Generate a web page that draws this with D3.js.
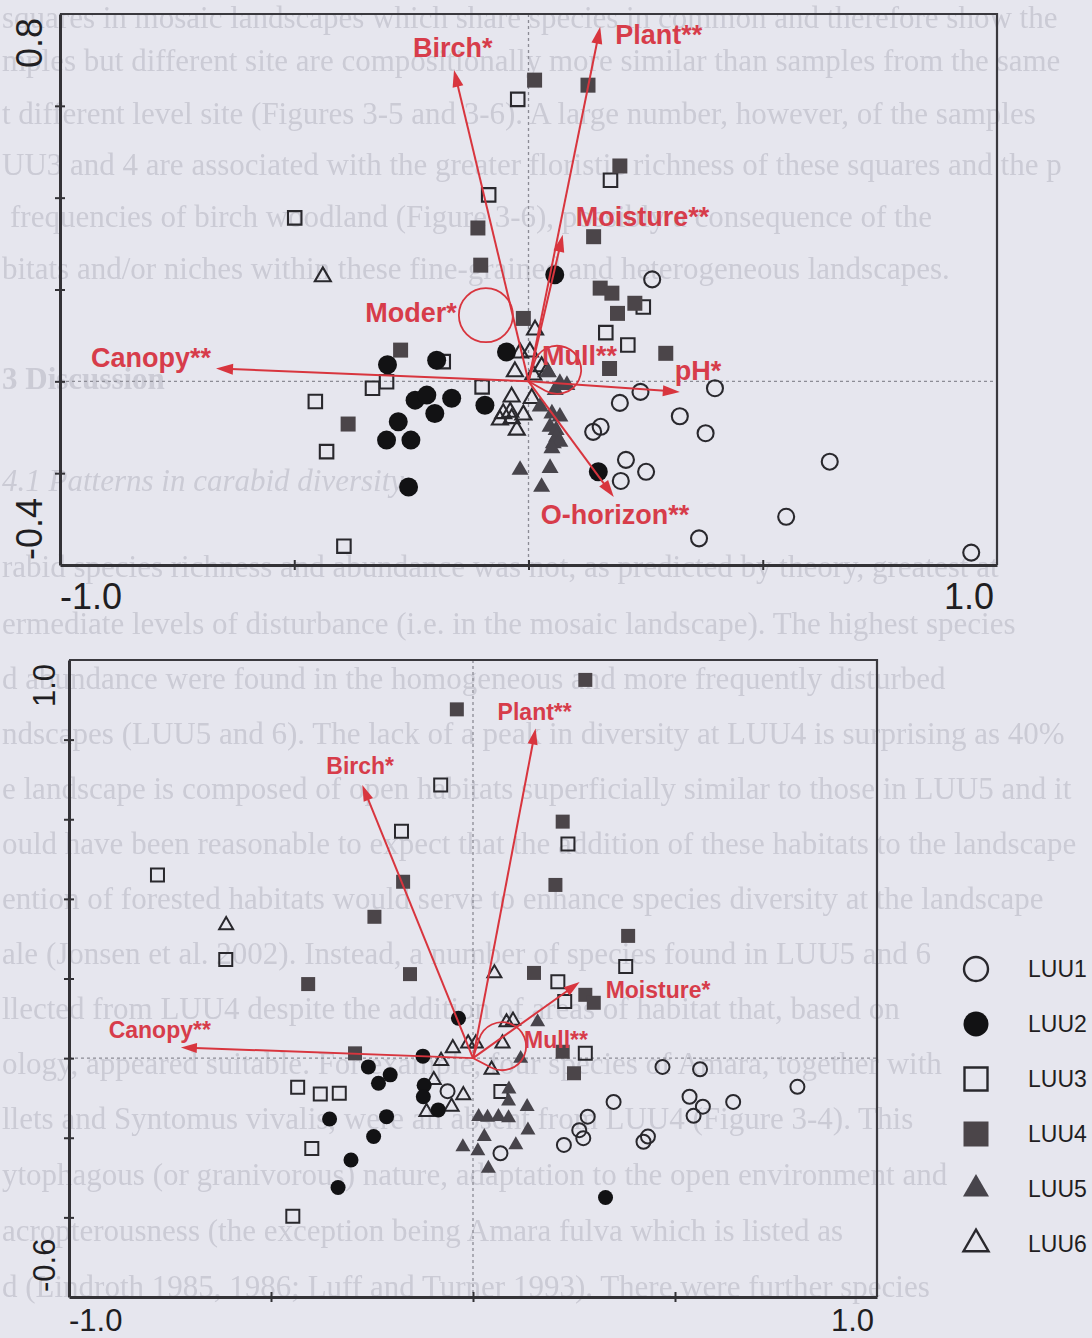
<!DOCTYPE html>
<html>
<head>
<meta charset="utf-8">
<script src="https://cdn.jsdelivr.net/npm/d3@7"></script>
<style>
  html, body { margin: 0; padding: 0; background: #e6e6ee; }
  svg { display: block; }
</style>
</head>
<body>
<svg id="page" width="1092" height="1338"></svg>
<script>
// ---------------- data ----------------
const groups = ["LUU1", "LUU2", "LUU3", "LUU4", "LUU5", "LUU6"];

// Upper biplot: sample scores [axis 1, axis 2]
const topLUU1 = [[0.264,0.222],[0.239,-0.023],[0.398,-0.015],[0.195,-0.047],[0.323,-0.076],[0.154,-0.099],[0.138,-0.110],[0.378,-0.113],[0.643,-0.175],[0.208,-0.171],[0.251,-0.197],[0.197,-0.217],[0.550,-0.295],[0.364,-0.342],[0.945,-0.373]];
const topLUU2 = [[0.056,0.232],[0.149,-0.197],[-0.047,0.064],[-0.196,0.046],[-0.301,0.036],[-0.242,-0.041],[-0.217,-0.030],[-0.164,-0.037],[-0.200,-0.070],[-0.278,-0.088],[-0.303,-0.128],[-0.251,-0.128],[-0.093,-0.052],[-0.256,-0.230]];
const topLUU3 = [[-0.023,0.614],[-0.085,0.406],[-0.499,0.356],[0.175,0.438],[0.245,0.162],[0.165,0.106],[0.212,0.079],[-0.182,0.043],[-0.303,-0.001],[-0.333,-0.015],[-0.455,-0.044],[-0.099,-0.012],[-0.431,-0.153],[-0.394,-0.359]];
const topLUU4 = [[0.013,0.656],[-0.108,0.334],[-0.102,0.253],[0.127,0.645],[0.195,0.469],[0.139,0.315],[0.153,0.203],[0.178,0.192],[0.227,0.170],[0.190,0.148],[0.293,0.061],[0.173,0.028],[-0.273,0.068],[-0.385,-0.093],[-0.011,0.137]];
const topLUU5 = [[0.067,-0.004],[0.082,-0.008],[0.057,-0.019],[0.025,-0.055],[0.050,-0.070],[0.067,-0.077],[0.046,-0.099],[0.059,-0.106],[0.060,-0.121],[0.053,-0.135],[0.067,-0.132],[0.050,-0.146],[-0.018,-0.193],[0.046,-0.189],[0.028,-0.230],[0.042,0.020]];
const topLUU6 = [[-0.439,0.228],[0.014,0.112],[-0.018,0.062],[0.003,0.064],[-0.029,0.021],[0.010,0.014],[0.039,0.021],[0.028,0.032],[-0.036,-0.034],[0.007,-0.037],[-0.054,-0.070],[-0.036,-0.081],[-0.011,-0.073],[-0.025,-0.106],[-0.061,-0.084],[-0.039,-0.067]];

// Upper biplot: environmental vectors and nominal-variable centroids
const topArrowNames = ["Birch*", "Plant**", "Moisture**", "Canopy**", "pH*", "O-horizon**"];
const topArrowX = [-0.159, 0.153, 0.073, -0.667, 0.323, 0.182];
const topArrowY = [0.678, 0.772, 0.319, 0.028, -0.023, -0.252];
const topCentroidNames = ["Moder*", "Mull**"];
const topCentroidX = [-0.091, 0.061];
const topCentroidY = [0.144, 0.025];

// Lower biplot: sample scores [axis 1, axis 2]
const botLUU1 = [[0.469,-0.022],[0.562,-0.028],[0.803,-0.072],[0.348,-0.110],[0.536,-0.097],[0.569,-0.122],[0.644,-0.110],[0.546,-0.145],[0.284,-0.147],[0.263,-0.181],[0.273,-0.201],[0.225,-0.218],[0.433,-0.197],[0.422,-0.210],[0.068,-0.239],[-0.063,-0.083]];
const botLUU2 = [[-0.036,0.100],[-0.124,0.005],[-0.259,-0.022],[-0.205,-0.042],[-0.234,-0.063],[-0.121,-0.068],[-0.123,-0.097],[-0.086,-0.130],[-0.355,-0.153],[-0.214,-0.147],[-0.246,-0.197],[-0.302,-0.256],[-0.334,-0.325],[0.328,-0.350]];
const botLUU3 = [[-0.080,0.686],[-0.177,0.570],[-0.781,0.460],[-0.612,0.248],[0.235,0.538],[0.378,0.230],[0.210,0.192],[0.227,0.142],[0.278,0.012],[-0.434,-0.073],[-0.378,-0.090],[-0.331,-0.088],[-0.399,-0.227],[-0.446,-0.397],[0.069,-0.084]];
const botLUU4 = [[0.278,0.950],[-0.040,0.876],[0.222,0.594],[-0.173,0.443],[0.204,0.435],[-0.244,0.355],[0.384,0.307],[-0.408,0.186],[-0.156,0.211],[0.151,0.214],[0.278,0.159],[0.299,0.139],[-0.292,0.012],[0.222,0.016],[0.250,-0.038]];
const botLUU5 = [[0.160,0.091],[0.118,-0.001],[0.089,-0.078],[0.088,-0.108],[0.134,-0.122],[0.014,-0.147],[0.036,-0.149],[0.063,-0.147],[0.088,-0.150],[0.136,-0.181],[0.028,-0.197],[-0.025,-0.223],[0.012,-0.233],[0.106,-0.218],[0.038,-0.277]];
const botLUU6 = [[-0.611,0.334],[0.053,0.213],[0.099,0.094],[0.083,0.090],[-0.050,0.025],[-0.012,0.037],[0.007,0.037],[0.073,0.037],[-0.079,-0.007],[0.046,-0.029],[-0.097,-0.055],[-0.053,-0.122],[-0.115,-0.135],[-0.024,-0.093]];

// Lower biplot: environmental vectors and centroid
const botArrowNames = ["Birch*", "Plant**", "Moisture*", "Canopy**"];
const botArrowX = [-0.274, 0.155, 0.264, -0.723];
const botArrowY = [0.686, 0.828, 0.191, 0.027];
const botCentroidNames = ["Mull**"];
const botCentroidX = [0.072];
const botCentroidY = [0.030];

// Axis end labels
const topXLabels = ["-1.0", "1.0"];
const topYLabels = ["-0.4", "0.8"];
const botXLabels = ["-1.0", "1.0"];
const botYLabels = ["-0.6", "1.0"];

// Running text of the page the figures are printed on (visible part of each line)
const pageLines = [
  "squares in mosaic landscapes which share species in common and therefore show the same",
  "mples but different site are compositionally more similar than samples from the same",
  "t different level site (Figures 3-5 and 3-6).  A large number, however, of the samples",
  "UU3 and 4 are associated with the greater floristic richness of these squares and the p",
  "frequencies of birch woodland (Figure 3-6), possibly a consequence of the accumulation",
  "bitats and/or niches within these fine-grained and heterogeneous landscapes.",
  "3 Discussion",
  "4.1 Patterns in carabid diversity",
  "rabid species richness and abundance was not, as predicted by theory, greatest at",
  "ermediate levels of disturbance (i.e. in the mosaic landscape).  The highest species",
  "d abundance were found in the homogeneous and more frequently disturbed agricultural",
  "ndscapes (LUU5 and 6).   The lack of a peak in diversity at LUU4 is surprising as 40%",
  "e landscape is composed of open habitats superficially similar to those in LUU5 and it",
  "ould have been reasonable to expect that the addition of these habitats to the landscape",
  "ention of forested habitats would serve to enhance species diversity at the landscape",
  "ale (Jonsen et al. 2002).  Instead, a number of species found in LUU5 and 6 were not",
  "llected from LUU4 despite the addition of areas of habitat that, based on their",
  "ology, appeared suitable.  For example, four species of Amara, together with Bembidion",
  "llets and Syntomus vivalis, were all absent from LUU4 (Figure 3-4).  This was despite",
  "ytophagous (or granivorous) nature, adaptation to the open environment and",
  "acropterousness (the exception being Amara fulva which is listed as dimorphic) in most",
  "d (Lindroth 1985, 1986; Luff and Turner 1993).  There were further species"
];
const pageLineX = [2, 2, 2, 2, 10, 2, 2, 2, 2, 2, 2, 2, 2, 2, 2, 2, 2, 2, 2, 2, 2, 2];
const pageLineY = [28, 71, 124, 175, 227, 279, 389, 491, 577, 634, 689, 744, 799, 854, 909, 964, 1019, 1074, 1129, 1185, 1241, 1297];
const pageLineStyle = ["n","n","n","n","n","n","b","i","n","n","n","n","n","n","n","n","n","n","n","n","n","n"];

// ---------------- drawing ----------------
const svg = d3.select("#page");
const RED_LINE = "#d8353e";
const RED_TEXT = "#d73c4a";
const INK = "#29282d";
const SANS = "'Liberation Sans', Arial, Helvetica, sans-serif";

// legend block position (used to keep the page text clear of it)
const LEGEND_X = 976, LEGEND_TOP = 969, LEGEND_BOTTOM = 1244;

svg.append("rect").attr("width", 1092).attr("height", 1338).attr("fill", "#e6e6ee");

// faint, slightly soft page text behind the figures
const defs = svg.append("defs");
defs.append("filter").attr("id", "soft")
  .append("feGaussianBlur").attr("stdDeviation", 0.7);
const pg = svg.append("g")
  .attr("font-family", "'Liberation Serif', 'Times New Roman', serif")
  .attr("font-size", 31)
  .attr("fill", "#cbcbd5")
  .attr("filter", "url(#soft)");
pageLines.forEach((t, i) => {
  const el = pg.append("text")
    .attr("x", pageLineX[i])
    .attr("y", pageLineY[i])
    .attr("font-weight", pageLineStyle[i] === "b" ? "bold" : "normal")
    .attr("font-style", pageLineStyle[i] === "i" ? "italic" : "normal")
    .text(t);
  // keep each line inside the page width (and clear of the legend), dropping whole words
  const yy = pageLineY[i];
  const limit = (yy > LEGEND_TOP - 30 && yy < LEGEND_BOTTOM + 35) ? LEGEND_X - 22 : 1088;
  let words = t.split(" ");
  while (words.length > 1 && pageLineX[i] + el.node().getComputedTextLength() > limit) {
    words.pop();
    el.text(words.join(" "));
  }
});

// symbol styles for the six land-use units
const symbolTypes = [d3.symbolCircle, d3.symbolCircle, d3.symbolSquare, d3.symbolSquare, d3.symbolTriangle, d3.symbolTriangle];
const symbolFill = ["none", "#121214", "none", "#4b4549", "#47444b", "none"];
const symbolStroke = [INK, "none", INK, "none", "none", INK];

function drawPanel(p) {
  const x = d3.scaleLinear().domain(p.xDomain).range(p.xRange);
  const y = d3.scaleLinear().domain(p.yDomain).range(p.yRange);
  const [xl, xr] = p.xRange;
  const [yb, yt] = p.yRange;
  const g = svg.append("g");

  // dotted zero lines
  g.append("line")
    .attr("x1", x(0)).attr("x2", x(0)).attr("y1", yt).attr("y2", yb)
    .attr("stroke", "#8c8c95").attr("stroke-width", 1.3).attr("stroke-dasharray", "3,3");
  g.append("line")
    .attr("x1", xl).attr("x2", xr).attr("y1", y(0)).attr("y2", y(0))
    .attr("stroke", "#8c8c95").attr("stroke-width", 1.3).attr("stroke-dasharray", "3,3");

  // top and right frame
  g.append("path")
    .attr("d", `M${xl},${yt}H${xr}V${yb}`)
    .attr("fill", "none").attr("stroke", "#3a393e").attr("stroke-width", 2.2);

  // axes
  const ax = g.append("g").attr("transform", `translate(0,${yb})`)
    .call(d3.axisBottom(x).tickValues(p.xTicks).tickFormat("").tickSizeOuter(0));
  const ay = g.append("g").attr("transform", `translate(${xl},0)`)
    .call(d3.axisLeft(y).tickValues(p.yTicks).tickFormat("").tickSizeOuter(0));
  [ax, ay].forEach(a => {
    a.select(".domain").attr("stroke", "#333236").attr("stroke-width", 3);
    a.selectAll(".tick line").attr("stroke", "#333236").attr("stroke-width", 2);
  });
  ax.selectAll(".tick line").attr("y1", -5).attr("y2", 5);
  ay.selectAll(".tick line").attr("x1", -5).attr("x2", 5);

  // axis end labels
  const lab = g.append("g").attr("font-family", SANS).attr("font-size", p.axisFont).attr("fill", "#1f1e22");
  lab.append("text").attr("x", x(p.xDomain[0])).attr("y", p.xLabelY).attr("text-anchor", "start").text(p.xLabels[0]);
  lab.append("text").attr("x", x(p.xDomain[1]) - 3).attr("y", p.xLabelY).attr("text-anchor", "end").text(p.xLabels[1]);
  lab.append("text").attr("transform", `translate(${p.yLabelX},${y(p.yDomain[0]) - 5}) rotate(-90)`)
    .attr("text-anchor", "start").text(p.yLabels[0]);
  lab.append("text").attr("transform", `translate(${p.yLabelX},${y(p.yDomain[1]) + 4}) rotate(-90)`)
    .attr("text-anchor", "end").text(p.yLabels[1]);

  // samples
  const pts = g.append("g");
  p.drawOrder.forEach(i => {
    const sym = d3.symbol().type(symbolTypes[i]).size(p.symbolSizes[i]);
    pts.selectAll(null).data(p.samples[i]).enter().append("path")
      .attr("d", sym)
      .attr("transform", d => `translate(${x(d[0])},${y(d[1])})`)
      .attr("fill", symbolFill[i])
      .attr("stroke", symbolStroke[i])
      .attr("stroke-width", symbolStroke[i] === "none" ? 0 : p.openStroke);
  });

  // environmental vectors
  const ox = x(0), oy = y(0);
  const vec = g.append("g");
  p.arrowNames.forEach((name, i) => {
    const tx = x(p.arrowX[i]), ty = y(p.arrowY[i]);
    const ang = Math.atan2(ty - oy, tx - ox);
    const L = p.headLen, W = p.headHalf;
    const bx = tx - L * Math.cos(ang), by = ty - L * Math.sin(ang);
    vec.append("line")
      .attr("x1", ox).attr("y1", oy).attr("x2", bx + 2 * Math.cos(ang)).attr("y2", by + 2 * Math.sin(ang))
      .attr("stroke", RED_LINE).attr("stroke-width", 2);
    const px = -Math.sin(ang), py = Math.cos(ang);
    vec.append("path")
      .attr("d", `M${tx},${ty}L${bx + W * px},${by + W * py}L${bx - W * px},${by - W * py}Z`)
      .attr("fill", RED_LINE);
    const off = p.arrowLabelOffset[name];
    vec.append("text")
      .attr("x", tx + off[0]).attr("y", ty + off[1])
      .attr("text-anchor", off[2])
      .attr("font-family", SANS).attr("font-weight", "bold").attr("font-size", p.labelFont)
      .attr("fill", RED_TEXT)
      .text(name);
  });

  // nominal variables drawn as rings / loops around their centroid
  p.centroidNames.forEach((name, i) => {
    const cx = x(p.centroidX[i]), cy = y(p.centroidY[i]);
    const r = p.ringRadius[name];
    const shape = p.ringShape[name];
    if (shape === "loop") {
      const d = Math.hypot(ox - cx, oy - cy);
      const th = Math.atan2(oy - cy, ox - cx);
      const a = Math.acos(Math.min(1, r / d));
      const t1 = [cx + r * Math.cos(th + a), cy + r * Math.sin(th + a)];
      const t2 = [cx + r * Math.cos(th - a), cy + r * Math.sin(th - a)];
      vec.append("path")
        .attr("d", `M${ox},${oy}L${t1[0]},${t1[1]}A${r},${r} 0 1 1 ${t2[0]},${t2[1]}Z`)
        .attr("fill", "none").attr("stroke", RED_LINE).attr("stroke-width", 1.8);
    } else {
      vec.append("circle").attr("cx", cx).attr("cy", cy).attr("r", r)
        .attr("fill", "none").attr("stroke", RED_LINE).attr("stroke-width", 1.8);
    }
    const off = p.centroidLabelOffset[name];
    vec.append("text")
      .attr("x", cx + off[0]).attr("y", cy + off[1])
      .attr("text-anchor", off[2])
      .attr("font-family", SANS).attr("font-weight", "bold").attr("font-size", p.labelFont)
      .attr("fill", RED_TEXT)
      .text(name);
  });
}

// upper biplot
drawPanel({
  xDomain: [-1, 1], yDomain: [-0.4, 0.8],
  xRange: [60, 997], yRange: [565, 14],
  xTicks: [-0.5, 0, 0.5], yTicks: [-0.2, 0, 0.2, 0.4, 0.6],
  xLabels: topXLabels, yLabels: topYLabels,
  axisFont: 36, xLabelY: 609, yLabelX: 42,
  samples: [topLUU1, topLUU2, topLUU3, topLUU4, topLUU5, topLUU6],
  drawOrder: [0, 2, 3, 5, 4, 1],
  symbolSizes: [201, 283, 182, 225, 125, 111],
  openStroke: 2.1,
  arrowNames: topArrowNames, arrowX: topArrowX, arrowY: topArrowY,
  headLen: 17, headHalf: 5.5,
  labelFont: 27,
  arrowLabelOffset: {
    "Birch*": [-41, -13, "start"],
    "Plant**": [15, 17, "start"],
    "Moisture**": [13, -9, "start"],
    "Canopy**": [-5, -1, "end"],
    "pH*": [-5, -12, "start"],
    "O-horizon**": [-73, 27, "start"]
  },
  centroidNames: topCentroidNames, centroidX: topCentroidX, centroidY: topCentroidY,
  ringRadius: { "Moder*": 27, "Mull**": 24 },
  ringShape: { "Moder*": "circle", "Mull**": "loop" },
  centroidLabelOffset: {
    "Moder*": [-29, 7, "end"],
    "Mull**": [-15, -5, "start"]
  }
});

// lower biplot
drawPanel({
  xDomain: [-1, 1], yDomain: [-0.6, 1.0],
  xRange: [69, 877], yRange: [1297, 660],
  xTicks: [-0.5, 0, 0.5], yTicks: [-0.4, -0.2, 0, 0.2, 0.4, 0.6, 0.8],
  xLabels: botXLabels, yLabels: botYLabels,
  axisFont: 31, xLabelY: 1331, yLabelX: 55,
  samples: [botLUU1, botLUU2, botLUU3, botLUU4, botLUU5, botLUU6],
  drawOrder: [0, 2, 3, 5, 4, 1],
  symbolSizes: [154, 177, 169, 196, 97, 85],
  openStroke: 2,
  arrowNames: botArrowNames, arrowX: botArrowX, arrowY: botArrowY,
  headLen: 16, headHalf: 5,
  labelFont: 23,
  arrowLabelOffset: {
    "Birch*": [-36, -11, "start"],
    "Plant**": [-38, -8, "start"],
    "Moisture*": [26, 16, "start"],
    "Canopy**": [30, -9, "end"]
  },
  centroidNames: botCentroidNames, centroidX: botCentroidX, centroidY: botCentroidY,
  ringRadius: { "Mull**": 24 },
  ringShape: { "Mull**": "loop" },
  centroidLabelOffset: {
    "Mull**": [22, 2, "start"]
  }
});

// legend
const legendY = d3.scalePoint().domain(groups).range([LEGEND_TOP, LEGEND_BOTTOM]);
const legendSizes = [452, 491, 529, 625, 293, 271];
const lg = svg.append("g");
groups.forEach((name, i) => {
  lg.append("path")
    .attr("d", d3.symbol().type(symbolTypes[i]).size(legendSizes[i]))
    .attr("transform", `translate(${LEGEND_X},${legendY(name)})`)
    .attr("fill", symbolFill[i])
    .attr("stroke", symbolStroke[i])
    .attr("stroke-width", symbolStroke[i] === "none" ? 0 : 2.4);
  lg.append("text")
    .attr("x", LEGEND_X + 52).attr("y", legendY(name)).attr("dy", "0.36em")
    .attr("font-family", SANS).attr("font-size", 23).attr("fill", "#1f1e22")
    .text(name);
});
</script>
</body>
</html>
